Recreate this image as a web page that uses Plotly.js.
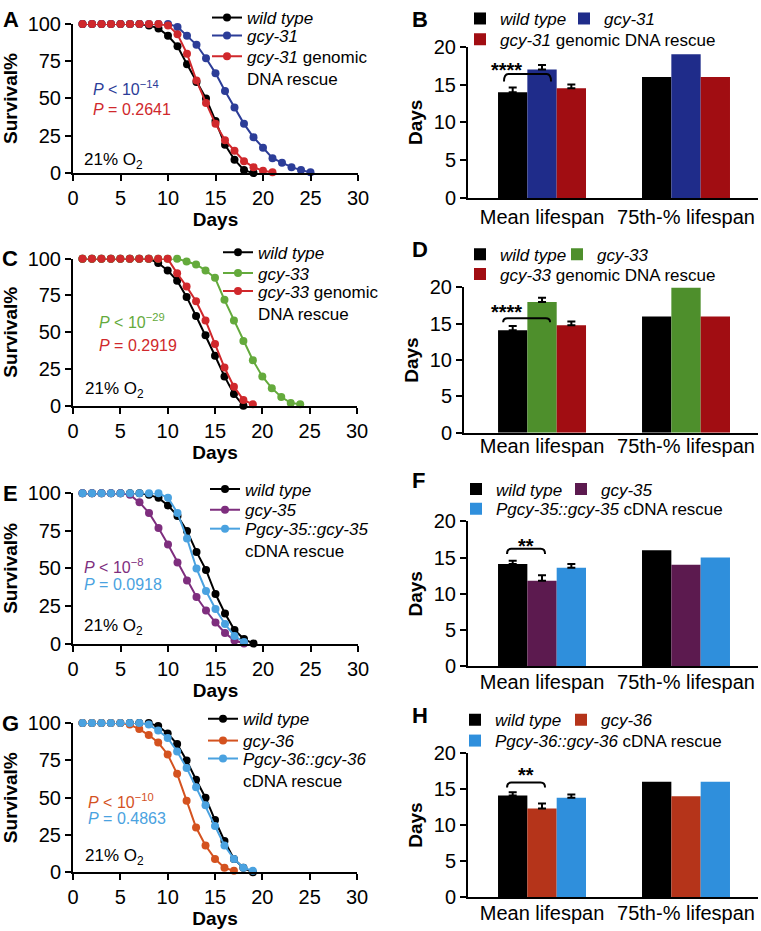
<!DOCTYPE html>
<html>
<head>
<meta charset="utf-8">
<script src="https://cdn.plot.ly/plotly-3.0.1.min.js"></script>
<style>html,body{margin:0;padding:0;background:#fff}#chart{width:761px;height:931px}</style>
</head>
<body>
<div id="chart"></div>
<script>
// ---------------- DATA ----------------
// Panel A (gcy-31)
const daysA_wt  = [1,2,3,4,5,6,7,8,9,10,11,12,13,14,15,16,17,18,19];
const survA_wt  = [100,100,100,100,100,100,100,99,97,92,85,73,61,50,35,19,9,2,0];
const daysA_mut = [1,2,3,4,5,6,7,8,9,10,11,12,13,14,15,16,17,18,19,20,21,22,23,24,25];
const survA_mut = [100,100,100,100,100,100,100,100,100,100,98,92,86,77,67,55,44,33,24,17,10,7,4,2,0.5];
const daysA_res = [1,2,3,4,5,6,7,8,9,10,11,12,13,14,15,16,17,18,19,20,21];
const survA_res = [100,100,100,100,100,100,100,100,100,99,93,80,62,47,33,22,15,8,4,1.5,0.5];

// Panel C (gcy-33)
const daysC_wt  = [1,2,3,4,5,6,7,8,9,10,11,12,13,14,15,16,17,18];
const survC_wt  = [100,100,100,100,100,100,100,100,97,92,85,74,61,48,34,20,8,0];
const daysC_mut = [1,2,3,4,5,6,7,8,9,10,11,12,13,14,15,16,17,18,19,20,21,22,23,24];
const survC_mut = [100,100,100,100,100,100,100,100,100,100,100,98,96,92,87,72,58,44,31,20,12,6,2,1];
const daysC_res = [1,2,3,4,5,6,7,8,9,10,11,12,13,14,15,16,17,18,19];
const survC_res = [100,100,100,100,100,100,100,100,100,100,90,81,71,58,42,26,13,4,1];

// Panel E (gcy-35)
const daysE_wt  = [1,2,3,4,5,6,7,8,9,10,11,12,13,14,15,16,17,18,19];
const survE_wt  = [100,100,100,100,100,100,100,99,97,92,85,75,61,49,33,20,9,3,0];
const daysE_mut = [1,2,3,4,5,6,7,8,9,10,11,12,13,14,15,16,17,18];
const survE_mut = [100,100,100,100,100,99,94,87,77,66,54,42,31,22,14,7,2,0];
const daysE_res = [1,2,3,4,5,6,7,8,9,10,11,12,13,14,15,16,17,18];
const survE_res = [100,100,100,100,100,100,100,100,100,97,87,70,50,35,23,13,5,1];

// Panel G (gcy-36)
const daysG_wt  = [1,2,3,4,5,6,7,8,9,10,11,12,13,14,15,16,17,18,19];
const survG_wt  = [100,100,100,100,100,100,100,100,98,93,86,75,62,50,35,21,9,3,0];
const daysG_mut = [1,2,3,4,5,6,7,8,9,10,11,12,13,14,15,16,17];
const survG_mut = [100,100,100,100,100,99,96,92,87,79,66,48,30,18,9,3,1];
const daysG_res = [1,2,3,4,5,6,7,8,9,10,11,12,13,14,15,16,17,18,19];
const survG_res = [100,100,100,100,100,100,100,99,95,90,81,70,57,45,31,18,9,3,1];

// Bar panels: [Mean lifespan, 75th-% lifespan]
const barCategories = ['Mean lifespan', '75th-% lifespan'];
const barB_wt = [14.0, 16], barB_mut = [17.0, 19], barB_res = [14.5, 16];
const semB = [0.6, 0.6, 0.5];
const barD_wt = [14.1, 16], barD_mut = [18.0, 20], barD_res = [14.8, 16];
const semD = [0.6, 0.6, 0.5];
const barF_wt = [14.1, 16], barF_mut = [11.8, 14], barF_res = [13.6, 15];
const semF = [0.45, 0.75, 0.5];
const barH_wt = [14.1, 16], barH_mut = [12.3, 14], barH_res = [13.8, 16];
const semH = [0.45, 0.7, 0.45];

// ---------------- STYLE ----------------
const W = 761, H = 931;
const fx = p => p / W;
const fy = p => 1 - p / H;
const LINE = {wt:'#000000', g31:'#2c3d98', red:'#d0282c', g33:'#64aa3c', g35:'#7e2e7e', lb:'#4aa2e0', g36:'#d4521f'};
const BAR  = {wt:'#000000', g31:'#1f2c8a', red:'#a10d12', g33:'#4e8f2c', g35:'#5c1a4f', lb:'#2f8fdc', g36:'#b5341a'};

const layout = {
  width: W, height: H,
  margin: {l:0, r:0, t:0, b:0},
  paper_bgcolor: '#ffffff', plot_bgcolor: 'rgba(0,0,0,0)',
  font: {family: 'Liberation Sans, Arial, sans-serif', size: 19, color: '#000'},
  barmode: 'group', bargap: 0.389, bargroupgap: 0,
  showlegend: true,
  annotations: [], shapes: []
};
const traces = [];

const axCommon = {
  showline: true, linecolor: '#000', linewidth: 2,
  ticks: 'outside', ticklen: 6, tickwidth: 2, tickcolor: '#000',
  showgrid: false, zeroline: false, fixedrange: true,
  tickfont: {size: 20}
};
const titleFont = {size: 19, weight: 'bold'};

let legendCount = 0;
function newLegend(xpx, ypx) {
  legendCount++;
  const key = legendCount === 1 ? 'legend' : 'legend' + legendCount;
  layout[key] = {
    x: fx(xpx), y: fy(ypx), xanchor: 'left', yanchor: 'middle', valign: 'top',
    orientation: 'v', bgcolor: 'rgba(0,0,0,0)', borderwidth: 0,
    font: {size: 17, color: '#000'}, itemclick: false, itemdoubleclick: false
  };
  return key;
}

function addText(text, xpx, ypx, opts) {
  layout.annotations.push(Object.assign({
    text: text, xref: 'paper', yref: 'paper', x: fx(xpx), y: fy(ypx),
    xanchor: 'left', yanchor: 'middle', showarrow: false,
    font: {size: 16, color: '#000'}
  }, opts || {}));
}

// ---------------- SURVIVAL PANELS ----------------
const survPanels = [
  {n:1, letter:'A', xd:[73,358], yd:[19,169],
   series:[
     {name:'<i>wild type</i>', x:daysA_wt, y:survA_wt, c:LINE.wt},
     {name:'<i>gcy-31</i>', x:daysA_mut, y:survA_mut, c:LINE.g31},
     {name:'<i>gcy-31</i> genomic<br>DNA rescue', x:daysA_res, y:survA_res, c:LINE.red}],
   legX:207, legY:[13,31,63],
   p1:{t:'<i>P</i> &lt; 10<sup>−14</sup>', c:LINE.g31, x:91, y:83},
   p2:{t:'<i>P</i> = 0.2641', c:LINE.red, x:91, y:105},
   o2:[82,157], let:[11,15]},
  {n:3, letter:'C', xd:[73,357], yd:[255,403],
   series:[
     {name:'<i>wild type</i>', x:daysC_wt, y:survC_wt, c:LINE.wt},
     {name:'<i>gcy-33</i>', x:daysC_mut, y:survC_mut, c:LINE.g33},
     {name:'<i>gcy-33</i> genomic<br>DNA rescue', x:daysC_res, y:survC_res, c:LINE.red}],
   legX:218, legY:[249,270,299],
   p1:{t:'<i>P</i> &lt; 10<sup>−29</sup>', c:LINE.g33, x:97, y:318},
   p2:{t:'<i>P</i> = 0.2919', c:LINE.red, x:97, y:342},
   o2:[83,387], let:[10,255]},
  {n:5, letter:'E', xd:[73,358], yd:[491,642],
   series:[
     {name:'<i>wild type</i>', x:daysE_wt, y:survE_wt, c:LINE.wt},
     {name:'<i>gcy-35</i>', x:daysE_mut, y:survE_mut, c:LINE.g35},
     {name:'<i>Pgcy-35::gcy-35</i><br>cDNA rescue', x:daysE_res, y:survE_res, c:LINE.lb}],
   legX:205, legY:[487,508,538],
   p1:{t:'<i>P</i> &lt; 10<sup>−8</sup>', c:LINE.g35, x:82, y:564},
   p2:{t:'<i>P</i> = 0.0918', c:LINE.lb, x:82, y:583},
   o2:[82,625], let:[10,491]},
  {n:7, letter:'G', xd:[73,357], yd:[722,872],
   series:[
     {name:'<i>wild type</i>', x:daysG_wt, y:survG_wt, c:LINE.wt},
     {name:'<i>gcy-36</i>', x:daysG_mut, y:survG_mut, c:LINE.g36},
     {name:'<i>Pgcy-36::gcy-36</i><br>cDNA rescue', x:daysG_res, y:survG_res, c:LINE.lb}],
   legX:203, legY:[718,740,769],
   p1:{t:'<i>P</i> &lt; 10<sup>−10</sup>', c:LINE.g36, x:86, y:800},
   p2:{t:'<i>P</i> = 0.4863', c:LINE.lb, x:86, y:818},
   o2:[83,857], let:[10,722]}
];

survPanels.forEach(p => {
  const s = p.n === 1 ? '' : String(p.n);
  layout['xaxis' + s] = Object.assign({}, axCommon, {
    domain: [fx(p.xd[0]), fx(p.xd[1])], anchor: 'y' + s,
    range: [0, 30], tick0: 0, dtick: 5,
    title: {text: 'Days', font: titleFont, standoff: 4}
  });
  layout['yaxis' + s] = Object.assign({}, axCommon, {
    domain: [fy(p.yd[1]), fy(p.yd[0])], anchor: 'x' + s,
    range: [0, 100], tick0: 0, dtick: 25,
    title: {text: 'Survival%', font: titleFont, standoff: 8}
  });
  p.series.forEach((sr, i) => {
    traces.push({
      type: 'scatter', mode: 'lines+markers', name: sr.name,
      x: sr.x, y: sr.y, xaxis: 'x' + s, yaxis: 'y' + s,
      line: {color: sr.c, width: 2}, marker: {color: sr.c, size: 8},
      cliponaxis: false, hoverinfo: 'skip',
      legend: newLegend(p.legX, p.legY[i])
    });
  });
  addText(p.p1.t, p.p1.x, p.p1.y, {font: {size: 16, color: p.p1.c}});
  addText(p.p2.t, p.p2.x, p.p2.y, {font: {size: 16, color: p.p2.c}});
  addText('21% O<sub>2</sub>', p.o2[0], p.o2[1], {font: {size: 17, color: '#000'}});
  addText(p.letter, p.let[0], p.let[1], {xanchor: 'center', font: {size: 22, color: '#000', weight: 'bold'}});
});

// ---------------- BAR PANELS ----------------
const barPanels = [
  {n:2, letter:'B', xd:[468,758], yd:[42,194], range:[-0.514,1.5], lstand:0,
   series:[
     {name:'<i>wild type</i>', y:barB_wt, c:BAR.wt, lx:460, ly:14},
     {name:'<i>gcy-31</i>', y:barB_mut, c:BAR.g31, lx:564, ly:14},
     {name:'<i>gcy-31</i> genomic DNA rescue', y:barB_res, c:BAR.red, lx:460, ly:35}],
   sem:semB, stars:'****', br:{x0:-0.264, x1:0.0625, yt:16.4, yl:15.4}, st:{x:-0.25, y:16.9},
   let:[420,15]},
  {n:4, letter:'D', xd:[464,758], yd:[284,430], range:[-0.542,1.5], lstand:-6,
   series:[
     {name:'<i>wild type</i>', y:barD_wt, c:BAR.wt, lx:460, ly:251},
     {name:'<i>gcy-33</i>', y:barD_mut, c:BAR.g33, lx:557, ly:251},
     {name:'<i>gcy-33</i> genomic DNA rescue', y:barD_res, c:BAR.red, lx:460, ly:271}],
   sem:semD, stars:'****', br:{x0:-0.27, x1:0.056, yt:15.75, yl:15.2}, st:{x:-0.25, y:16.6},
   let:[420,246]},
  {n:6, letter:'F', xd:[468,758], yd:[519,665], range:[-0.514,1.5], lstand:-3,
   series:[
     {name:'<i>wild type</i>', y:barF_wt, c:BAR.wt, lx:456, ly:487},
     {name:'<i>gcy-35</i>', y:barF_mut, c:BAR.g35, lx:561, ly:487},
     {name:'<i>Pgcy-35::gcy-35</i> cDNA rescue', y:barF_res, c:BAR.lb, lx:456, ly:507}],
   sem:semF, stars:'**', br:{x0:-0.243, x1:0.021, yt:16.2, yl:15.5}, st:{x:-0.11, y:16.6},
   let:[418,478]},
  {n:8, letter:'H', xd:[468,758], yd:[752,897], range:[-0.514,1.5], lstand:-3,
   series:[
     {name:'<i>wild type</i>', y:barH_wt, c:BAR.wt, lx:455, ly:719},
     {name:'<i>gcy-36</i>', y:barH_mut, c:BAR.g36, lx:561, ly:719},
     {name:'<i>Pgcy-36::gcy-36</i> cDNA rescue', y:barH_res, c:BAR.lb, lx:455, ly:740}],
   sem:semH, stars:'**', br:{x0:-0.243, x1:0.021, yt:15.9, yl:15.2}, st:{x:-0.11, y:17.0},
   let:[420,714]}
];

barPanels.forEach(p => {
  const s = String(p.n);
  layout['xaxis' + s] = Object.assign({}, axCommon, {
    domain: [fx(p.xd[0]), fx(p.xd[1])], anchor: 'y' + s,
    range: p.range, tickvals: [0, 1], ticktext: barCategories,
    ticks: '', ticklabelstandoff: p.lstand
  });
  layout['yaxis' + s] = Object.assign({}, axCommon, {
    domain: [fy(p.yd[1]), fy(p.yd[0])], anchor: 'x' + s,
    range: [0, 20], tick0: 0, dtick: 5,
    title: {text: 'Days', font: titleFont, standoff: 6}
  });
  p.series.forEach((sr, i) => {
    traces.push({
      type: 'bar', name: sr.name, x: [0, 1], y: sr.y,
      xaxis: 'x' + s, yaxis: 'y' + s,
      marker: {color: sr.c, line: {width: 0}},
      error_y: {type: 'data', symmetric: false, array: [p.sem[i], NaN], arrayminus: [0, NaN],
                color: '#000', thickness: 2, width: 4},
      hoverinfo: 'skip',
      legend: newLegend(sr.lx, sr.ly)
    });
  });
  const b = p.br, d = 0.03;
  layout.shapes.push({
    type: 'path', xref: 'x' + s, yref: 'y' + s,
    path: `M ${b.x0},${b.yl} Q ${b.x0},${b.yt} ${b.x0 + d},${b.yt} L ${b.x1 - d},${b.yt} Q ${b.x1},${b.yt} ${b.x1},${b.yl}`,
    line: {color: '#000', width: 2}
  });
  layout.annotations.push({
    text: p.stars, xref: 'x' + s, yref: 'y' + s, x: p.st.x, y: p.st.y,
    xanchor: 'center', yanchor: 'middle', showarrow: false,
    font: {size: 20, color: '#000', weight: 'bold'}
  });
  addText(p.letter, p.let[0], p.let[1], {xanchor: 'center', font: {size: 22, color: '#000', weight: 'bold'}});
});

Plotly.newPlot('chart', traces, layout, {displayModeBar: false, staticPlot: true});
</script>
</body>
</html>
